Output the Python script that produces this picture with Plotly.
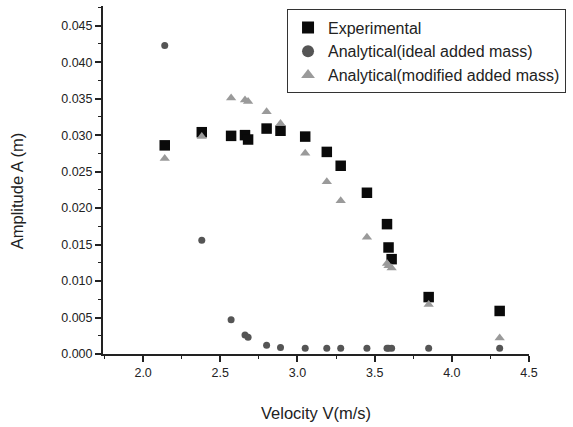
import plotly.graph_objects as go

velocity = [2.14, 2.38, 2.57, 2.66, 2.68, 2.80, 2.89, 3.05, 3.19, 3.28, 3.45, 3.58, 3.59, 3.61, 3.85, 4.31]
experimental = [0.0286, 0.0304, 0.0299, 0.0300, 0.0294, 0.0309, 0.0306, 0.0298, 0.0277, 0.0258, 0.0221, 0.0178, 0.0146, 0.0130, 0.0078, 0.0059]
ideal_mass = [0.0423, 0.0156, 0.0047, 0.0026, 0.0023, 0.0012, 0.0009, 0.0008, 0.0008, 0.0008, 0.0008, 0.0008, 0.0008, 0.0008, 0.0008, 0.0008]
modified_mass = [0.0268, 0.0298, 0.0351, 0.0348, 0.0346, 0.0332, 0.0316, 0.0275, 0.0236, 0.0210, 0.0160, 0.0124, 0.0121, 0.0118, 0.0068, 0.0022]

x_ticks = [2.0, 2.5, 3.0, 3.5, 4.0, 4.5]
y_ticks = [0.000, 0.005, 0.010, 0.015, 0.020, 0.025, 0.030, 0.035, 0.040, 0.045]

FONT = "Liberation Sans, Arial, sans-serif"

fig = go.Figure()
fig.add_trace(go.Scatter(x=velocity, y=experimental, mode="markers", name="Experimental",
                         marker=dict(symbol="square", size=10.5, color="#0a0a0a")))
fig.add_trace(go.Scatter(x=velocity, y=ideal_mass, mode="markers", name="Analytical(ideal added mass)",
                         marker=dict(symbol="circle", size=7, color="#555555")))
fig.add_trace(go.Scatter(x=velocity, y=modified_mass, mode="markers", name="Analytical(modified added mass)",
                         marker=dict(symbol="triangle-up", size=9, color="#9a9a9a")))

fig.update_layout(
    width=573, height=427,
    margin=dict(l=103, r=44, t=6, b=73),
    paper_bgcolor="white", plot_bgcolor="white",
    font=dict(family=FONT, color="#222222"),
    showlegend=True,
    legend=dict(x=0.432, y=0.99, xanchor="left", yanchor="top",
                bordercolor="#333333", borderwidth=1, bgcolor="white",
                font=dict(size=16, family=FONT, color="#222222"),
                tracegroupgap=0, itemsizing="constant"),
    xaxis=dict(range=[1.74, 4.5], tickvals=x_ticks, tickformat=".1f",
               showgrid=False, zeroline=False, showline=True, linecolor="#222222", linewidth=2,
               ticks="outside", ticklen=6, tickwidth=1.5, tickcolor="#222222",
               tickfont=dict(size=12.5, family=FONT, color="#222222"),
               minor=dict(dtick=0.25, tick0=2.0, ticks="outside", ticklen=3, tickwidth=1.2, tickcolor="#222222", showgrid=False)),
    yaxis=dict(range=[0, 0.0477], tickvals=y_ticks, tickformat=".3f",
               showgrid=False, zeroline=False, showline=True, linecolor="#222222", linewidth=2,
               ticks="outside", ticklen=6, tickwidth=1.5, tickcolor="#222222",
               tickfont=dict(size=12.5, family=FONT, color="#222222"),
               minor=dict(dtick=0.0025, tick0=0, ticks="outside", ticklen=3, tickwidth=1.2, tickcolor="#222222", showgrid=False)),
    annotations=[
        dict(text="Velocity V(m/s)", xref="paper", yref="paper", x=0.5, y=-0.17,
             xanchor="center", yanchor="middle", showarrow=False,
             font=dict(size=16.5, family=FONT, color="#222222")),
        dict(text="Amplitude A (m)", xref="paper", yref="paper", x=-0.2, y=0.467,
             xanchor="center", yanchor="middle", showarrow=False, textangle=-90,
             font=dict(size=16.5, family=FONT, color="#222222")),
    ],
)

fig.write_html("out.html")
